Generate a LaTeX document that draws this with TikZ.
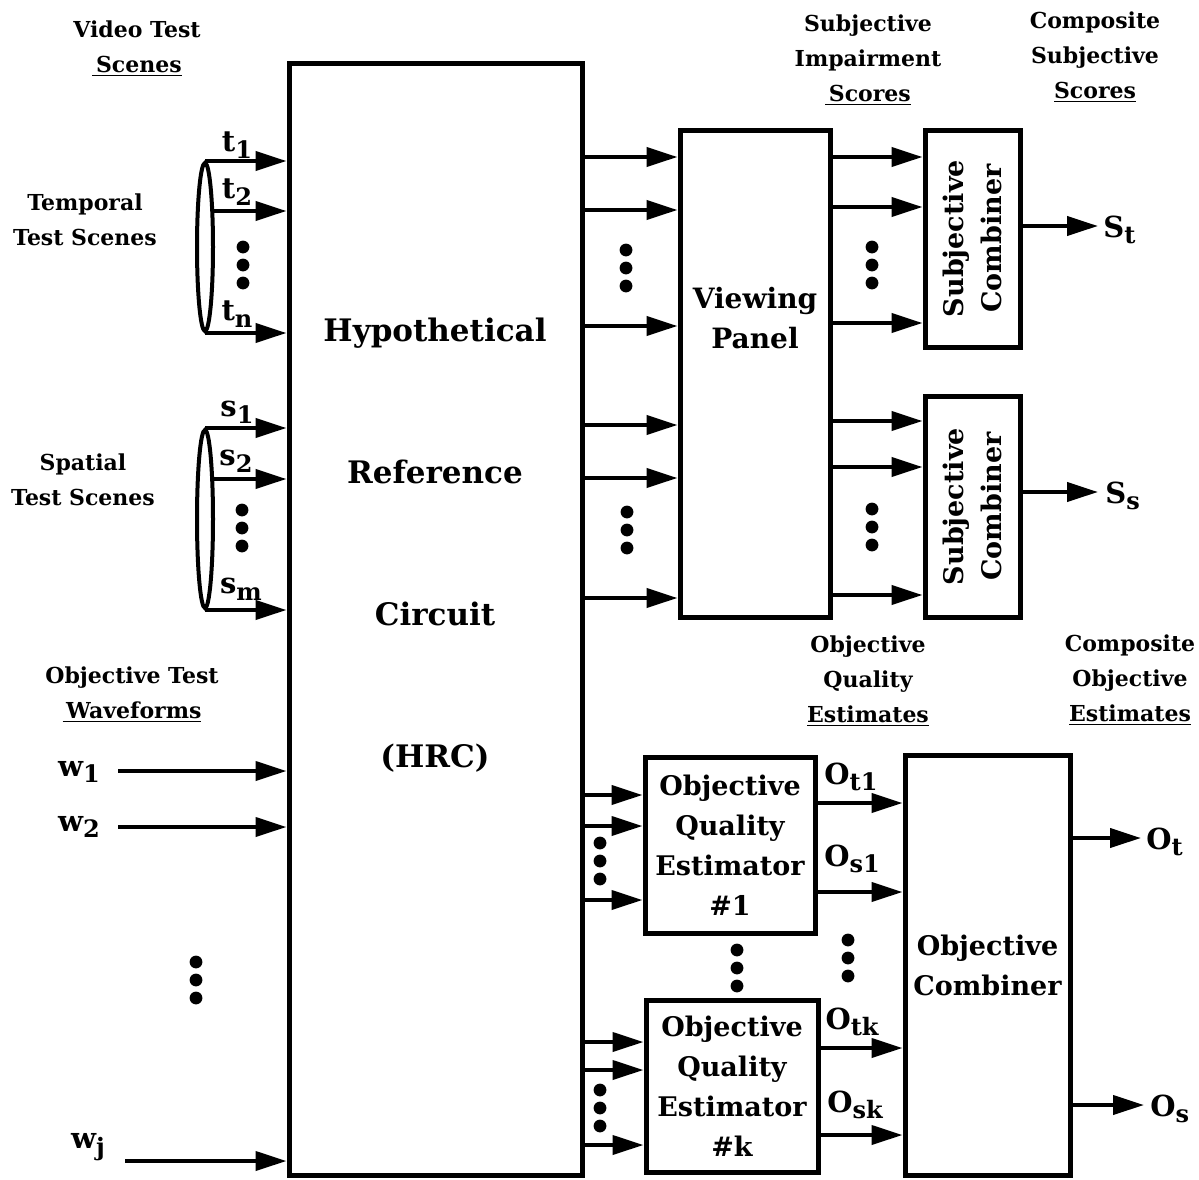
\documentclass[tikz,border=0pt]{standalone}
\usepackage{fontspec}
\setmainfont{DejaVu Serif}
\usetikzlibrary{arrows.meta,shapes.geometric}
\newcommand\threedots[2]{\fill (#1,#2) circle (3.2pt) (#1,#2+18) circle (3.2pt) (#1,#2+36) circle (3.2pt);}
\newcommand\subs[1]{\raisebox{-0.45ex}{\fontsize{12}{12}\selectfont #1}}
\begin{document}
\begin{tikzpicture}[x=0.5pt,y=-0.5pt,
 box/.style={draw,line width=2.5pt,inner sep=0pt,align=center,font=\bfseries\fontsize{13.5}{20}\selectfont},
 arr/.style={line width=2pt,-{Triangle[length=15.5pt,width=9.5pt]}},
 lbl/.style={font=\bfseries\fontsize{11}{17.5}\selectfont,align=center,inner sep=0pt},
 sig/.style={font=\bfseries\fontsize{14.5}{16}\selectfont,inner sep=0pt},
 big/.style={font=\bfseries\fontsize{15.5}{71}\selectfont,align=center,inner sep=0pt},
 ell/.style={draw,ellipse,line width=2pt,inner sep=0pt,minimum width=8pt},
]
\useasboundingbox[fill=white] (0,0) rectangle (1199,1179);

% boxes
\node[box,minimum width=146.5pt,minimum height=556pt] (hrc) at (435.5,619) {};
\node[big] (hrcl) at (435,545) {Hypothetical\\Reference\\Circuit\\(HRC)};
\node[box,minimum width=75pt,minimum height=243.5pt] (vp) at (755,373.5) {};
\node[lbl,font=\bfseries\fontsize{14}{20}\selectfont] (vpl) at (755,318) {Viewing\\Panel};
\node[box,minimum width=47.5pt,minimum height=108.5pt] (sc1) at (972.5,238.5) {};
\node[lbl,rotate=90,font=\bfseries\fontsize{13.5}{19}\selectfont] (sc1l) at (sc1) {Subjective\\Combiner};
\node[box,minimum width=47.5pt,minimum height=110.5pt] (sc2) at (972.5,506.5) {};
\node[lbl,rotate=90,font=\bfseries\fontsize{13.5}{19}\selectfont] (sc2l) at (sc2) {Subjective\\Combiner};
\node[box,minimum width=85pt,minimum height=88pt] (e1) at (730,845) {Objective\\Quality\\Estimator\\\#1};
\node[box,minimum width=86pt,minimum height=86pt] (ek) at (732,1086) {Objective\\Quality\\Estimator\\\#k};
\node[box,minimum width=82.5pt,minimum height=210pt] (oc) at (987.5,965) {Objective\\Combiner};

% header labels
\node[lbl] (vts) at (137,49) {Video Test\\\underline{\,Scenes}};
\node[lbl] (tts) at (85,220) {Temporal\\Test Scenes};
\node[lbl] (sts) at (83,480) {Spatial\\Test Scenes};
\node[lbl] (otw) at (132,695) {Objective Test\\\underline{\,Waveforms}};
\node[lbl] (sis) at (868,60) {Subjective\\Impairment\\\underline{\,Scores}};
\node[lbl] (css) at (1095,57) {Composite\\Subjective\\\underline{Scores}};
\node[lbl] (oqe) at (868,681) {Objective\\Quality\\\underline{Estimates}};
\node[lbl] (coe) at (1130,680) {Composite\\Objective\\\underline{Estimates}};

% temporal inputs
\node[ell,minimum height=84pt] (tell) at (205,247) {};
\coordinate (t2s) at (212,211);
\draw[arr] (tell.north) -- (hrc.west |- tell.north);
\draw[arr] (t2s) -- (hrc.west |- t2s);
\draw[arr] (tell.south) -- (hrc.west |- tell.south);
\node[sig] (t1l) at (237,145) {t\subs{1}};
\node[sig] (t2l) at (237,192) {t\subs{2}};
\node[sig] (tnl) at (237,314) {t\subs{n}};
\threedots{243}{247}

% spatial inputs
\node[ell,minimum height=89pt] (sell) at (205,519) {};
\coordinate (s2s) at (212,479);
\draw[arr] (sell.north) -- (hrc.west |- sell.north);
\draw[arr] (s2s) -- (hrc.west |- s2s);
\draw[arr] (sell.south) -- (hrc.west |- sell.south);
\node[sig] (s1l) at (237,412) {s\subs{1}};
\node[sig] (s2l) at (236,461) {s\subs{2}};
\node[sig] (sml) at (241,589) {s\subs{m}};
\threedots{242}{510}

% waveform inputs
\coordinate (w1s) at (118,771);
\coordinate (w2s) at (118,827);
\coordinate (wjs) at (125,1161);
\draw[arr] (w1s) -- (hrc.west |- w1s);
\draw[arr] (w2s) -- (hrc.west |- w2s);
\draw[arr] (wjs) -- (hrc.west |- wjs);
\node[sig] (w1l) at (79,772) {w\subs{1}};
\node[sig] (w2l) at (79,827) {w\subs{2}};
\node[sig] (wjl) at (88,1147) {w\subs{j}};
\threedots{196}{962}

% HRC -> viewing panel
\foreach \y in {157,210,326,425,478,598} \draw[arr] (hrc.east |- 0,\y) -- (vp.west |- 0,\y);
\threedots{626}{250}
\threedots{627}{512}

% viewing panel -> subjective combiners
\foreach \y in {157,207,323} \draw[arr] (vp.east |- 0,\y) -- (sc1.west |- 0,\y);
\foreach \y in {421,467,595} \draw[arr] (vp.east |- 0,\y) -- (sc2.west |- 0,\y);
\threedots{872}{247}
\threedots{872}{509}

% subjective outputs
\coordinate (st) at (1098,226);
\coordinate (ss) at (1098,492);
\draw[arr] (sc1.east |- st) -- (st);
\draw[arr] (sc2.east |- ss) -- (ss);
\node[sig,anchor=west] (stl) at (1103,230) {S\subs{t}};
\node[sig,anchor=west] (ssl) at (1105,496) {S\subs{s}};

% HRC -> estimators
\foreach \y in {795,826,900} \draw[arr] (hrc.east |- 0,\y) -- (e1.west |- 0,\y);
\foreach \y in {1042,1070,1145} \draw[arr] (hrc.east |- 0,\y) -- (ek.west |- 0,\y);
\threedots{600}{843}
\threedots{600}{1090}
\threedots{737}{950}
\threedots{848}{940}

% estimators -> objective combiner
\foreach \y in {803,892} \draw[arr] (e1.east |- 0,\y) -- (oc.west |- 0,\y);
\foreach \y in {1048,1135} \draw[arr] (ek.east |- 0,\y) -- (oc.west |- 0,\y);
\node[sig] (ot1l) at (851,777) {O\subs{t1}};
\node[sig] (os1l) at (852,859) {O\subs{s1}};
\node[sig] (otkl) at (852,1022) {O\subs{tk}};
\node[sig] (oskl) at (855,1105) {O\subs{sk}};

% objective outputs
\coordinate (ot) at (1141,838);
\coordinate (os) at (1144,1105);
\draw[arr] (oc.east |- ot) -- (ot);
\draw[arr] (oc.east |- os) -- (os);
\node[sig,anchor=west] (otl) at (1146,842) {O\subs{t}};
\node[sig,anchor=west] (osl) at (1150,1109) {O\subs{s}};
\end{tikzpicture}
\end{document}
